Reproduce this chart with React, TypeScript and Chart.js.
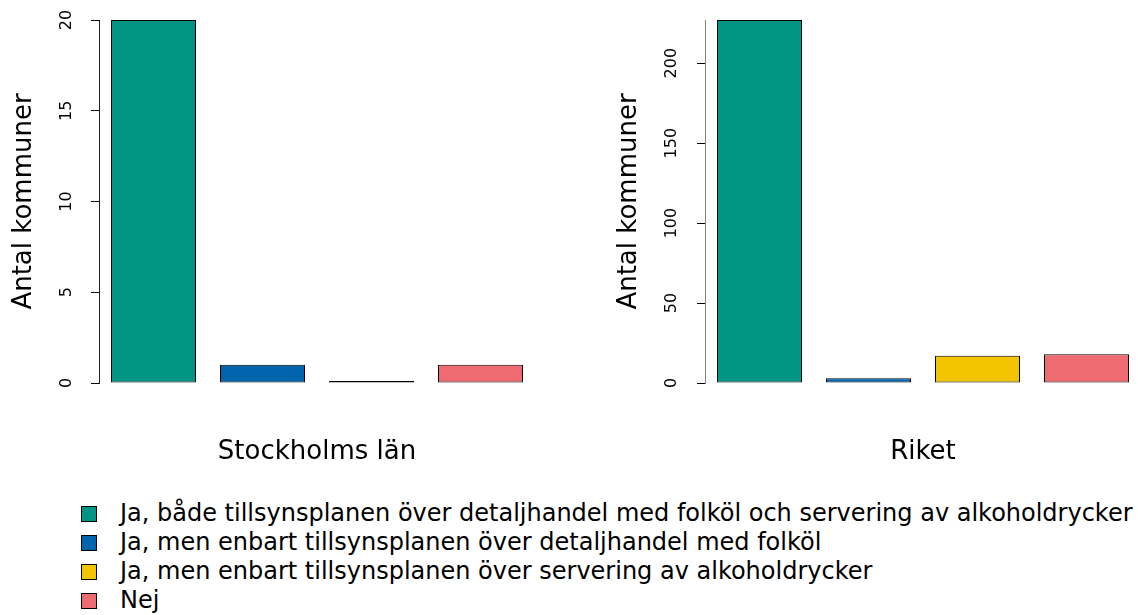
import React, { useEffect, useRef } from "react";
import { Chart, registerables } from "chart.js";

Chart.register(...registerables);

const categories = [
  "Ja, både tillsynsplanen över detaljhandel med folköl och servering av alkoholdrycker",
  "Ja, men enbart tillsynsplanen över detaljhandel med folköl",
  "Ja, men enbart tillsynsplanen över servering av alkoholdrycker",
  "Nej",
];
const stockholmValues = [20, 1, 0, 1];
const riketValues = [227, 3, 17, 18];
const stockholmTicks = [0, 5, 10, 15, 20];
const riketTicks = [0, 50, 100, 150, 200];
const colors = ["#009485", "#0064AD", "#F2C500", "#EE6B72"];
const yTitle = "Antal kommuner";

const FONT = "'DejaVu Sans', Verdana, sans-serif";

type PanelProps = {
  title: string;
  values: number[];
  ticks: number[];
  left: number;
  width: number;
  height: number;
  yWidth: number;
  padRight: number;
  titlePadTop: number;
  tickPad: number;
  axisColor: string;
};

function Panel(p: PanelProps) {
  const ref = useRef<HTMLCanvasElement | null>(null);
  useEffect(() => {
    if (!ref.current) return;
    const chart = new Chart(ref.current, {
      type: "bar",
      data: {
        labels: categories,
        datasets: [
          {
            data: p.values,
            backgroundColor: colors,
            borderColor: "#000",
            borderWidth: 1,
            borderSkipped: false,
            minBarLength: 2,
            categoryPercentage: 1,
            barPercentage: 85 / 109,
          },
        ],
      },
      options: {
        responsive: false,
        animation: false,
        layout: { padding: { top: 20, left: 0, right: p.padRight, bottom: 0 } },
        plugins: { legend: { display: false }, tooltip: { enabled: false } },
        scales: {
          x: {
            grid: { display: false },
            border: { display: false },
            ticks: { display: false },
            title: {
              display: true,
              text: p.title,
              color: "#000",
              font: { family: FONT, size: 26 },
              padding: { top: 0, bottom: 0 },
            },
            afterFit: (s: any) => {
              s.height = 85;
              s.paddingLeft = 0;
              s.paddingRight = 0;
            },
          },
          y: {
            min: 0,
            max: Math.max(...p.values),
            afterBuildTicks: (s: any) => {
              s.ticks = p.ticks.map((v) => ({ value: v }));
            },
            grid: {
              drawOnChartArea: false,
              drawTicks: true,
              tickLength: 8,
              color: "#000",
            },
            border: { display: true, color: p.axisColor, width: 1 },
            ticks: {
              autoSkip: false,
              minRotation: 90,
              maxRotation: 90,
              crossAlign: "center",
              padding: p.tickPad,
              color: "#000",
              font: { family: FONT, size: 16 },
            },
            title: {
              display: true,
              text: yTitle,
              color: "#000",
              font: { family: FONT, size: 26 },
              padding: { top: p.titlePadTop, bottom: 0 },
            },
            afterFit: (s: any) => {
              s.width = p.yWidth;
              s.paddingTop = 0;
              s.paddingBottom = 0;
            },
          },
        },
      },
    } as any);
    return () => chart.destroy();
  }, []);
  return (
    <canvas
      ref={ref}
      width={p.width}
      height={p.height}
      style={{
        position: "absolute",
        left: p.left,
        top: 0,
        width: p.width,
        height: p.height,
      }}
    />
  );
}

export default function App() {
  return (
    <div
      style={{
        position: "fixed",
        left: 0,
        top: 0,
        width: 1138,
        height: 615,
        overflow: "hidden",
        background: "#fff",
      }}
    >
      <Panel
        title="Stockholms län"
        values={stockholmValues}
        ticks={stockholmTicks}
        left={0}
        width={569}
        height={468}
        yWidth={99}
        padRight={34}
        titlePadTop={9}
        tickPad={14}
        axisColor="#222"
      />
      <Panel
        title="Riket"
        values={riketValues}
        ticks={riketTicks}
        left={569}
        width={580}
        height={468}
        yWidth={136}
        padRight={8}
        titlePadTop={45}
        tickPad={10}
        axisColor="#888"
      />
      <div
        style={{
          position: "absolute",
          left: 81,
          top: 499,
          fontFamily: FONT,
          fontSize: 24,
          color: "#000",
        }}
      >
        {categories.map((c, i) => (
          <div
            key={c}
            style={{
              display: "flex",
              alignItems: "center",
              height: 29,
              whiteSpace: "nowrap",
            }}
          >
            <span
              style={{
                display: "inline-block",
                width: 14,
                height: 14,
                background: colors[i],
                border: "1px solid #000",
                marginRight: 23,
              }}
            />
            <span style={{ lineHeight: "29px" }}>{c}</span>
          </div>
        ))}
      </div>
    </div>
  );
}
